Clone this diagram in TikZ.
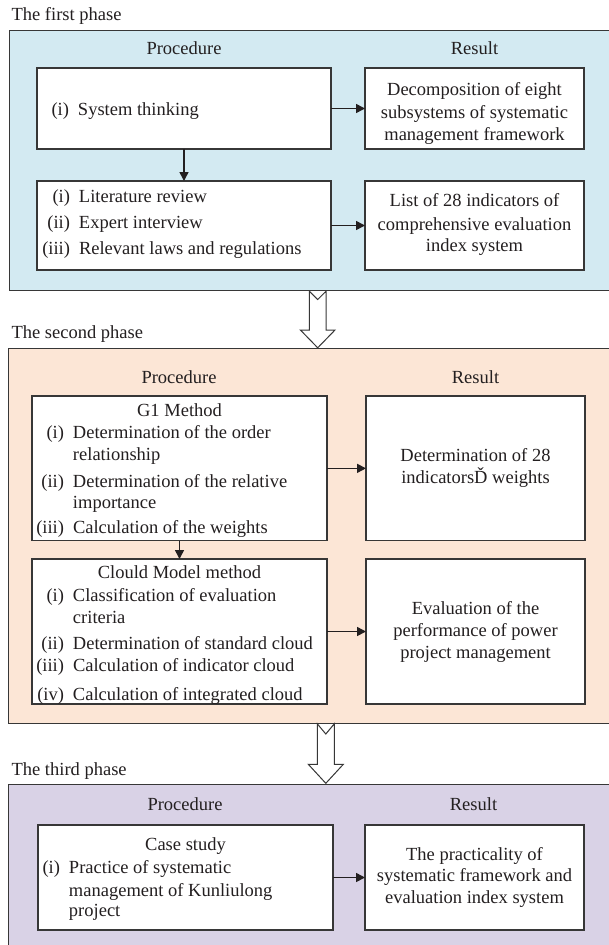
\documentclass[tikz,border=0pt]{standalone}
\usepackage{fontspec}
\setmainfont{Liberation Serif}
\usetikzlibrary{arrows.meta}
\definecolor{pblue}{RGB}{211,234,242}
\definecolor{ppeach}{RGB}{252,230,214}
\definecolor{ppurple}{RGB}{217,210,230}
\definecolor{edge}{RGB}{55,55,55}
\definecolor{ink}{RGB}{35,31,32}
\newcommand\fs{\fontsize{18.5}{22.5}\selectfont}
\newcommand\lst[1]{\begin{tabular}[t]{@{}r@{\hspace{9pt}}l@{}}#1\end{tabular}}
\newcommand\ctr[1]{\begin{tabular}[t]{@{}c@{}}#1\end{tabular}}
\newcommand\lb[1]{\makebox[30pt][r]{#1}}
\newcommand\mkbox[6]{\node[#1, minimum width={#5pt-#3pt}, minimum height={#6pt-#4pt}] (#2) at ({(#3+#5)/2},{(#4+#6)/2}) {};}
\tikzset{
  panel/.style={draw=edge, line width=1pt, inner sep=0pt, outer sep=0pt},
  box/.style={draw=edge, fill=white, line width=1.1pt, inner sep=0pt, outer sep=0pt},
  txt/.style={inner sep=0pt, outer sep=0pt, text=ink, font=\fs},
  flow/.style={-{Triangle[length=9pt,width=9pt]}, line width=1.6pt, draw=ink},
  hollow/.style={draw=edge, fill=white, line width=1pt, line join=miter},
}
\begin{document}
\begin{tikzpicture}[x=1pt,y=-1pt]
\useasboundingbox (0,0) rectangle (608,945);
\fill[white] (0,0) rectangle (608,945);
% panels
\mkbox{panel, fill=pblue}{p1}{9}{30}{615}{290.7}
\mkbox{panel, fill=ppeach}{p2}{8}{348}{615}{723.3}
\mkbox{panel, fill=ppurple}{p3}{8}{784}{615}{952}
% phase labels
\node[txt, anchor=base west] (l1) at (11.6,20.7) {The first phase};
\node[txt, anchor=base west] (l2) at (11.6,338.3) {The second phase};
\node[txt, anchor=base west] (l3) at (11.6,775) {The third phase};
% column heads
\node[txt, anchor=base] (pr1) at (184,54) {Procedure};
\node[txt, anchor=base] (re1) at (474.5,54) {Result};
\node[txt, anchor=base] (pr2) at (179,383.3) {Procedure};
\node[txt, anchor=base] (re2) at (475.5,383.3) {Result};
\node[txt, anchor=base] (pr3) at (185,810.7) {Procedure};
\node[txt, anchor=base] (re3) at (473.5,810.7) {Result};
% boxes phase 1
\mkbox{box}{a1}{37}{68}{331}{149}
\mkbox{box}{r1}{365}{68}{584}{149}
\mkbox{box}{a2}{37}{181}{331}{270}
\mkbox{box}{r2}{365}{181}{584}{270}
\node[txt, anchor=base west] (ta1) at (39,115) {\lst{\lb{(i)} & System thinking}};
\node[txt, anchor=base west] (ta2) at (40,202) {\lst{\lb{(i)} & Literature review\\[3.5pt]
  \lb{(ii)} & Expert interview\\[3.5pt]
  \lb{(iii)} & Relevant laws and regulations}};
\node[txt, anchor=base] (tr1) at (474.5,95.7) {\ctr{Decomposition of eight\\subsystems of systematic\\management framework}};
\node[txt, anchor=base] (tr2) at (474.5,206.7) {\ctr{List of 28 indicators of\\[0.8pt]comprehensive evaluation\\[-0.8pt]index system}};
% boxes phase 2
\mkbox{box}{b1}{32}{396}{327}{540.7}
\mkbox{box}{rb1}{366}{396}{585}{540.7}
\mkbox{box}{b2}{32}{559}{327}{704}
\mkbox{box}{rb2}{366}{559}{585}{704}
\node[txt, anchor=base] (tb1h) at (179.5,416) {G1 Method};
\node[txt, anchor=base west] (tb1) at (34,438.3) {\lst{\lb{(i)} & Determination of the order\\[-0.5pt]
  & relationship\\[4.2pt]
  \lb{(ii)} & Determination of the relative\\[-1pt]
  & importance\\[2.5pt]
  \lb{(iii)} & Calculation of the weights}};
\node[txt, anchor=base] (trb1) at (475.5,461.7) {\ctr{Determination of 28\\[-1pt]indicatorsĎ weights}};
\node[txt, anchor=base] (tb2h) at (179.5,578.7) {Clould Model method};
\begin{scope}
\clip (b2.north west) rectangle (b2.south east);
\node[txt, anchor=base west] (tb2) at (34,601.7) {\lst{\lb{(i)} & Classification of evaluation\\[-1pt]
  & criteria\\[4.2pt]
  \lb{(ii)} & Determination of standard cloud\\[-0.8pt]
  \lb{(iii)} & Calculation of indicator cloud\\[6.5pt]
  \lb{(iv)} & Calculation of integrated cloud}};
\end{scope}
\node[txt, anchor=base] (trb2) at (475.5,614) {\ctr{Evaluation of the\\[-0.5pt]performance of power\\[-0.2pt]project management}};
% boxes phase 3
\mkbox{box}{c1}{38}{825}{333}{930}
\mkbox{box}{rc1}{365}{825}{584}{930}
\node[txt, anchor=base] (tc1h) at (185.5,850.7) {Case study};
\node[txt, anchor=base west] (tc1) at (30,873.3) {\lst{\lb{(i)} & Practice of systematic\\[0.2pt]
  & management of Kunliulong\\[-1.8pt]
  & project}};
\node[txt, anchor=base] (trc1) at (474.5,860) {\ctr{The practicality of\\[-0.8pt]systematic framework and\\[-0.8pt]evaluation index system}};
% connectors
\draw[flow] (a1.east) -- (r1.west);
\draw[flow] (a1.south) -- (a2.north);
\draw[flow] (a2.east) -- (r2.west);
\draw[flow] (b1.east) -- (rb1.west);
\draw[flow] (b1.south) -- (b2.north);
\draw[flow] (b2.east) -- (rb2.west);
\draw[flow] (c1.east) -- (rc1.west);
% hollow arrows between phases
\draw[hollow] (309.3,291.2) -- (317.7,299.5) -- (326.1,291.2) -- (326.1,330) -- (335,330)
  -- (317.7,347.8) -- (300.4,330) -- (309.3,330) -- cycle;
\draw[hollow] (317.3,723.8) -- (325.8,734) -- (334.3,723.8) -- (334.3,764.3) -- (343.3,764.3)
  -- (325.8,783.3) -- (308.3,764.3) -- (317.3,764.3) -- cycle;
\end{tikzpicture}
\end{document}
